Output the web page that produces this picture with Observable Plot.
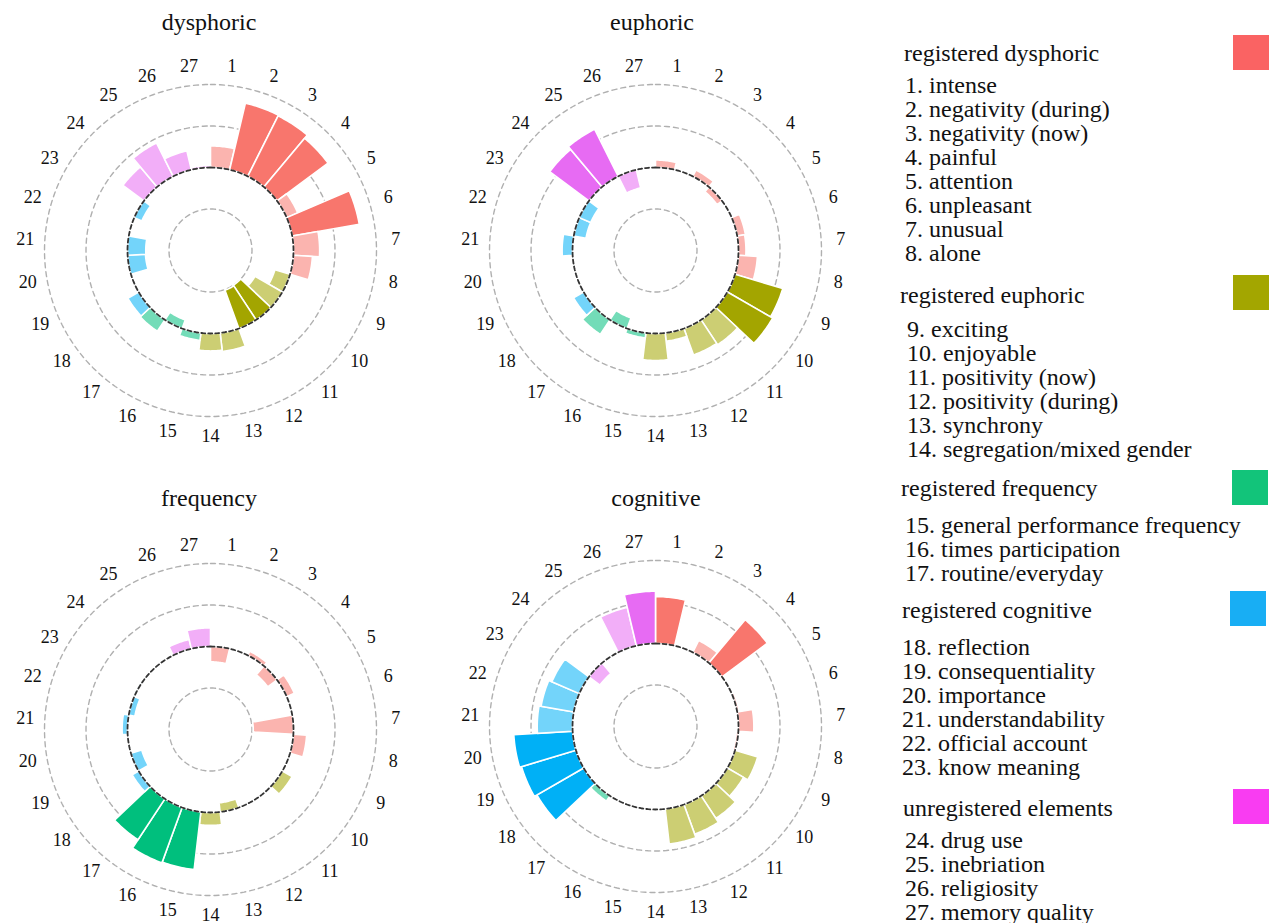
<!DOCTYPE html>
<html>
<head>
<meta charset="utf-8">
<script src="https://cdn.jsdelivr.net/npm/d3@7"></script>
<script src="https://cdn.jsdelivr.net/npm/@observablehq/plot@0.6"></script>
<style>
  html, body { margin: 0; padding: 0; background: #fff; }
  body { width: 1271px; height: 923px; overflow: hidden; position: relative;
         font-family: "Liberation Serif", "DejaVu Serif", serif; color: #111; }
  .title { position: absolute; width: 300px; text-align: center; font-size: 24px; line-height: 24px; }
  .chart { position: absolute; }
  .legend-block { position: absolute; font-size: 24px; line-height: 24px; white-space: nowrap; }
  .swatch { position: absolute; width: 36px; height: 35px; }
</style>
</head>
<body>
<script>
// ---------------- data ----------------
const itemLabels = ["1","2","3","4","5","6","7","8","9","10","11","12","13","14",
                    "15","16","17","18","19","20","21","22","23","24","25","26","27"];
const itemNames = ["intense","negativity (during)","negativity (now)","painful","attention",
  "unpleasant","unusual","alone","exciting","enjoyable","positivity (now)","positivity (during)",
  "synchrony","segregation/mixed gender","general performance frequency","times participation",
  "routine/everyday","reflection","consequentiality","importance","understandability",
  "official account","know meaning","drug use","inebriation","religiosity","memory quality"];
// group index of each item (0 dysphoric, 1 euphoric, 2 frequency, 3 cognitive, 4 unregistered)
const itemGroup = [0,0,0,0,0,0,0,0, 1,1,1,1,1,1, 2,2,2, 3,3,3,3,3,3, 4,4,4,4];
const groupColors = ["#F8766D","#A3A500","#00BF7D","#00B0F6","#E76BF3"];
const legendHeadings = ["registered dysphoric","registered euphoric","registered frequency",
                        "registered cognitive","unregistered elements"];
const legendSwatchColors = ["#FA6363","#A3A600","#12C47A","#18AEF4","#F93CF2"];

const chartTitles = ["dysphoric","euphoric","frequency","cognitive"];
const dysphoricValues = [0.52,1.65,1.63,1.53,0.29,1.64,0.63,0.46,-0.38,-0.76,-1.0,-0.98,0.45,0.42,
                         0.18,-0.22,0.33,0.3,0,-0.43,-0.44,0,-0.2,0.63,0.9,0.47,0.05];
const euphoricValues  = [0.18,0,0.17,-0.15,0,0.2,0.18,0.46,1.2,1.26,0.72,0.68,0.2,0.65,
                         0.12,-0.27,0.42,0.28,0,0,0.25,-0.3,-0.3,1.18,1.27,-0.45,0];
const frequencyValues = [-0.37,0,0.11,-0.28,0.2,0,-0.97,0.32,0.03,0.27,0,0,-0.22,0.31,
                         1.4,1.42,1.18,0.18,-0.27,0,0.13,-0.15,0.04,0,0,0.23,0.45];
const cognitiveValues = [1.13,0,0.32,1.36,0,0.05,0.37,-0.05,0.57,0.45,0.65,0.76,0.85,0.03,
                         0,0,0.15,1.3,1.37,1.42,0.85,0.8,0.72,-0.33,0,0.95,1.26];
const dysphoricSignificant = [2,3,4,6,11,12];
const euphoricSignificant  = [9,10,24,25];
const frequencySignificant = [15,16,17];
const cognitiveSignificant = [1,4,18,19,20,27];

const gridLevels = [-1, 1, 2];
const baselineLevel = 0;
const labelLevel = 2.47;

// ---------------- layout (positions / styles) ----------------
const fontStack = '"Liberation Serif", "DejaVu Serif", serif';
const svgW = 440, svgH = 420, cx = 220, cy = 210;
const chartBoxes = [
  {left: -10, top: 40,  titleX: 209, titleTop: 10},
  {left: 435, top: 40,  titleX: 652, titleTop: 10},
  {left: -10, top: 519, titleX: 209, titleTop: 486},
  {left: 435, top: 516, titleX: 656, titleTop: 486}
];
const legendLayout = [
  {headX: 904, headTop: 41,  itemX: 905, itemTop: 73,  swX: 1233, swY: 35},
  {headX: 900, headTop: 283, itemX: 907, itemTop: 317, swX: 1233, swY: 275},
  {headX: 901, headTop: 476, itemX: 905, itemTop: 513, swX: 1232, swY: 470},
  {headX: 902, headTop: 598, itemX: 902, itemTop: 635, swX: 1230, swY: 591},
  {headX: 903, headTop: 796, itemX: 905, itemTop: 828, swX: 1233, swY: 789}
];
const lightMix = 0.55;

// ---------------- scales & polar projection ----------------
const angleScale = Plot.scale({x: {type: "linear", domain: [0, itemLabels.length], range: [0, 2 * Math.PI]}});
const radiusScale = Plot.scale({y: {type: "linear", domain: [-2, 2], range: [0, 166]}});

function polarProjection() {
  return d3.geoTransform({
    point(p, v) {
      const a = angleScale.apply(p);
      const r = radiusScale.apply(v);
      this.stream.point(cx + r * Math.sin(a), cy - r * Math.cos(a));
    }
  });
}

function wedge(i, v) {
  const n = 16;
  const inner = d3.range(n + 1).map(k => [i + 1 - k / n, baselineLevel]);
  const outer = d3.range(n + 1).map(k => [i + k / n, v]);
  return {type: "Polygon", coordinates: [[...inner, ...outer, inner[0]]]};
}

function barsFor(values, significant) {
  return values
    .map((v, i) => ({i, v, sig: significant.includes(i + 1)}))
    .filter(d => Math.abs(d.v) > 0.005)
    .map(d => {
      const base = groupColors[itemGroup[d.i]];
      return {
        geometry: wedge(d.i, d.v),
        fill: d.sig ? base : d3.interpolateRgb("#ffffff", base)(lightMix)
      };
    });
}

function ringPoints(levels) {
  const steps = itemLabels.length * 8;
  return levels.flatMap(level => d3.range(steps + 1).map(k => ({p: k / 8, level})));
}

const chartValues = [dysphoricValues, euphoricValues, frequencyValues, cognitiveValues];
const chartSignificant = [dysphoricSignificant, euphoricSignificant, frequencySignificant, cognitiveSignificant];

chartTitles.forEach((title, c) => {
  const box = chartBoxes[c];
  const t = document.createElement("div");
  t.className = "title";
  t.style.left = (box.titleX - 150) + "px";
  t.style.top = box.titleTop + "px";
  t.textContent = title;
  document.body.appendChild(t);

  const plot = Plot.plot({
    width: svgW,
    height: svgH,
    margin: 0,
    projection: polarProjection(),
    style: {fontFamily: fontStack, fontSize: "18px", background: "transparent", overflow: "visible", color: "#111"},
    marks: [
      Plot.line(ringPoints(gridLevels), {x: "p", y: "level", z: "level", stroke: "#b0b0b0", strokeWidth: 1.4, strokeDasharray: "5,4"}),
      Plot.geo(barsFor(chartValues[c], chartSignificant[c]), {geometry: d => d.geometry, fill: d => d.fill, stroke: "white", strokeWidth: 1.6}),
      Plot.line(ringPoints([baselineLevel]), {x: "p", y: "level", stroke: "#333", strokeWidth: 1.8, strokeDasharray: "4,3"}),
      Plot.text(itemLabels, {x: (d, i) => i + 0.5, y: () => labelLevel, text: d => d, fontSize: 18, fill: "#111", fontFamily: fontStack})
    ]
  });
  const wrap = document.createElement("div");
  wrap.className = "chart";
  wrap.style.left = box.left + "px";
  wrap.style.top = box.top + "px";
  wrap.appendChild(plot);
  document.body.appendChild(wrap);
});

// ---------------- legend ----------------
legendHeadings.forEach((heading, g) => {
  const L = legendLayout[g];
  const h = document.createElement("div");
  h.className = "legend-block";
  h.style.left = L.headX + "px";
  h.style.top = L.headTop + "px";
  h.textContent = heading;
  document.body.appendChild(h);

  const items = document.createElement("div");
  items.className = "legend-block";
  items.style.left = L.itemX + "px";
  items.style.top = L.itemTop + "px";
  itemNames.forEach((name, i) => {
    if (itemGroup[i] !== g) return;
    const line = document.createElement("div");
    line.textContent = itemLabels[i] + ". " + name;
    items.appendChild(line);
  });
  document.body.appendChild(items);

  const sw = document.createElement("div");
  sw.className = "swatch";
  sw.style.left = L.swX + "px";
  sw.style.top = L.swY + "px";
  sw.style.background = legendSwatchColors[g];
  document.body.appendChild(sw);
});
</script>
</body>
</html>
